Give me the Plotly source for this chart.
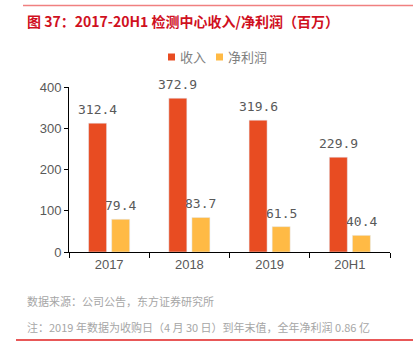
import plotly.graph_objects as go

categories = ["2017", "2018", "2019", "20H1"]
revenue = [312.4, 372.9, 319.6, 229.9]
net_profit = [79.4, 83.7, 61.5, 40.4]
y_ticks = [0, 100, 200, 300, 400]

title_text = "图 37：2017-20H1 检测中心收入/净利润（百万）"
source_text = "数据来源：公司公告，东方证券研究所"
note_text = "注：2019 年数据为收购日（4 月 30 日）到年末值，全年净利润 0.86 亿"

W, H = 413, 358
L, R, T, B = 69, 23, 87, 106
ph = H - T - B
pw = W - L - R

def py(px):
    return (H - B - px) / ph

def px_(x):
    return (x - L) / pw

RED = "#E84C22"
YEL = "#FFBA45"
label_font = dict(family="DejaVu Sans Mono, monospace", size=13, color="#595959")
cjk = "Noto Sans CJK SC, sans-serif"

fig = go.Figure()
fig.add_bar(x=categories, y=revenue, name="收入", marker_color=RED)
fig.add_bar(x=categories, y=net_profit, name="净利润", marker_color=YEL)

# data labels (category index positions)
for i, v in enumerate(revenue):
    fig.add_annotation(x=i, y=v, text=f"{v:.1f}", showarrow=False, xshift=-11.5,
                       yanchor="bottom", yshift=4, font=label_font)
for i, v in enumerate(net_profit):
    fig.add_annotation(x=i, y=v, text=f"{v:.1f}", showarrow=False, xshift=11.5,
                       yanchor="bottom", yshift=4, font=label_font)

fig.update_layout(
    width=W, height=H,
    margin=dict(l=L, r=R, t=T, b=B, autoexpand=False),
    paper_bgcolor="white", plot_bgcolor="white",
    barmode="group", bargap=0.425, bargroupgap=0.22,
    font=dict(family=cjk, color="#595959"),
    showlegend=False,
    xaxis=dict(type="category", range=[-0.5, len(categories) - 0.5],
               showline=True, linecolor="#000", linewidth=1, ticks="outside",
               tickson="boundaries", ticklen=5, tickcolor="#000",
               tickfont=dict(size=13, color="#595959", family="Liberation Sans, sans-serif")),
    yaxis=dict(range=[0, 400], tickvals=y_ticks, showline=True, linecolor="#000",
               linewidth=1, ticks="outside", ticklen=4, tickcolor="#000",
               showgrid=False, zeroline=False,
               tickfont=dict(size=13, color="#595959", family="Liberation Sans, sans-serif")),
)

# manual legend
leg_items = [("收入", RED, 168), ("净利润", YEL, 216)]
for name, col, x0 in leg_items:
    fig.add_shape(type="rect", xref="paper", yref="paper",
                  x0=px_(x0), x1=px_(x0 + 7), y0=py(53.5), y1=py(60.5),
                  fillcolor=col, line=dict(width=0))
    fig.add_annotation(text=name, xref="paper", yref="paper", x=px_(x0 + 10), y=py(57),
                       xanchor="left", yanchor="middle", showarrow=False,
                       font=dict(size=13, color="#7f7f7f", family=cjk))

fig.add_annotation(text=title_text, xref="paper", yref="paper",
                   x=px_(25), y=py(9), xanchor="left", yanchor="top", showarrow=False,
                   font=dict(size=14, color="#D0101E", family=cjk, weight=600))
fig.add_annotation(text=source_text, xref="paper", yref="paper",
                   x=px_(25), y=py(291), xanchor="left", yanchor="top", showarrow=False,
                   font=dict(size=11, color="#a6a6a6", family=cjk))
fig.add_annotation(text=note_text, xref="paper", yref="paper",
                   x=px_(25), y=py(317), xanchor="left", yanchor="top", showarrow=False,
                   font=dict(size=11, color="#a6a6a6", family=cjk))

fig.add_shape(type="line", xref="paper", yref="paper", x0=px_(23), x1=px_(413),
              y0=py(5.5), y1=py(5.5), line=dict(color="#F08080", width=1.5))
fig.add_shape(type="line", xref="paper", yref="paper", x0=px_(16), x1=px_(413),
              y0=py(340), y1=py(340), line=dict(color="#E02020", width=1.5))

fig.write_html("out.html", config={"displayModeBar": False},
               post_script="document.body.style.margin='0';")
